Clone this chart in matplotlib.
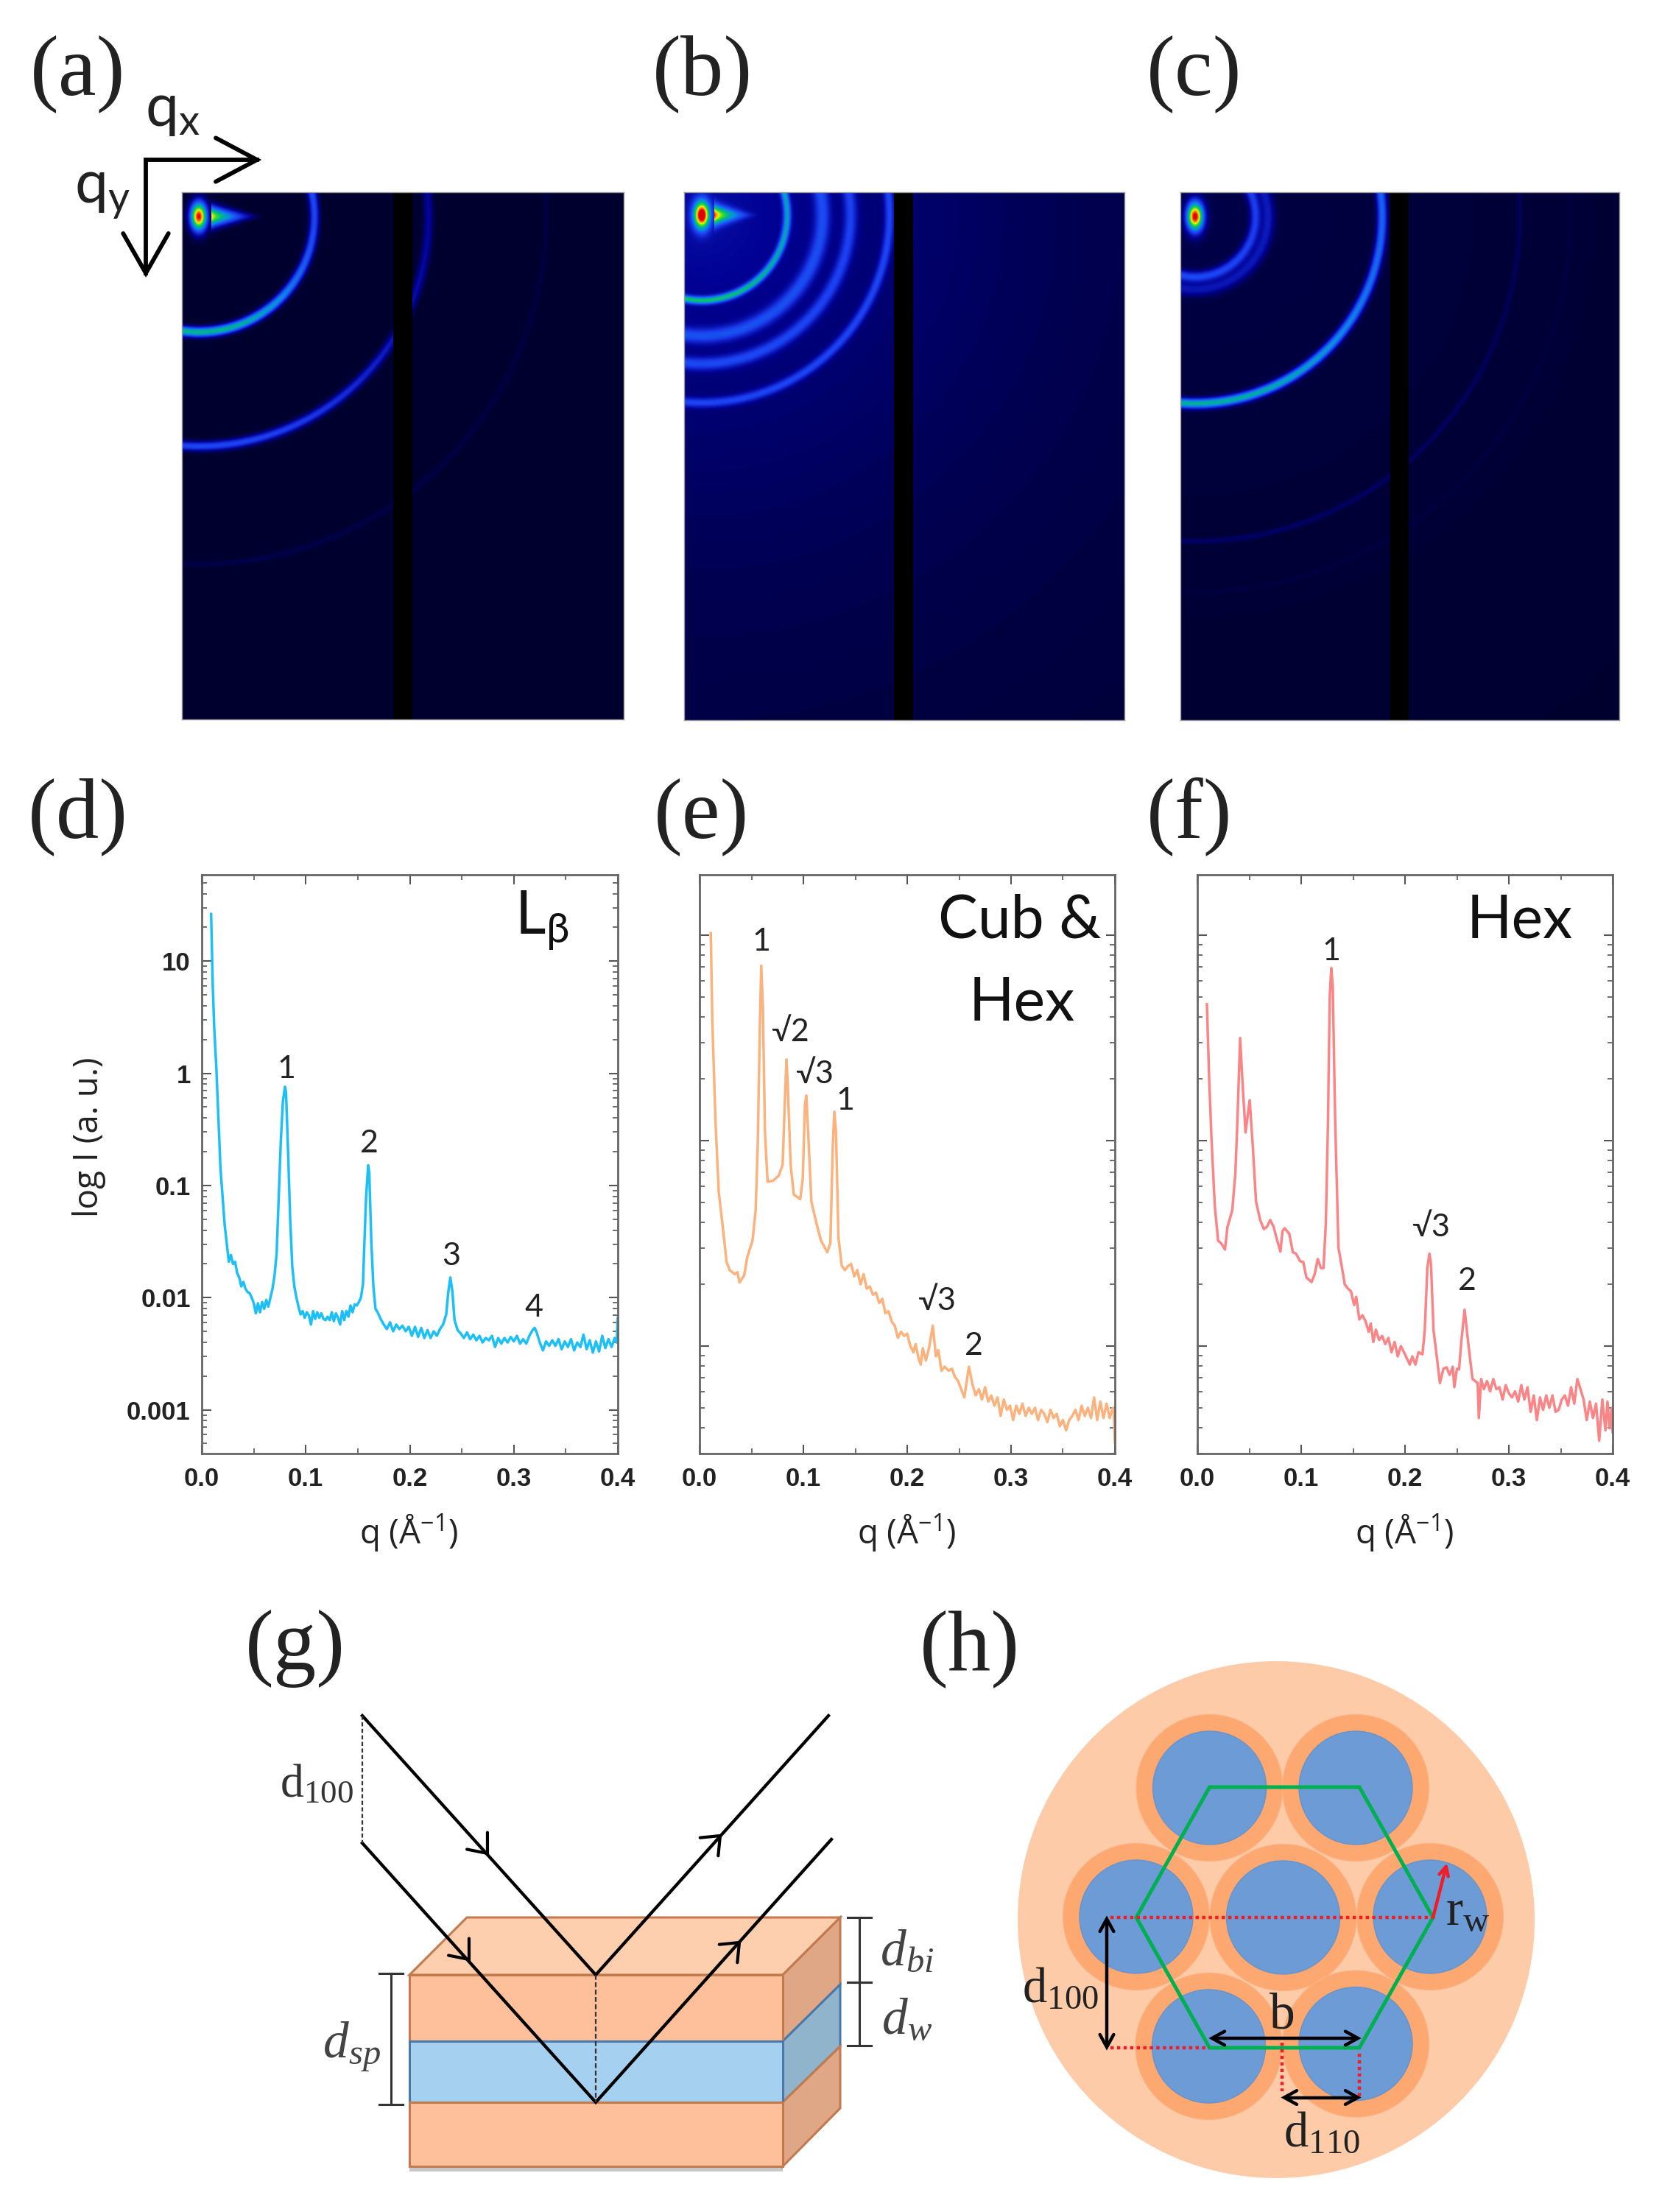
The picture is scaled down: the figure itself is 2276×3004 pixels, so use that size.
import numpy as np
import matplotlib
matplotlib.use('Agg')
import matplotlib.pyplot as plt
from matplotlib.colors import LinearSegmentedColormap
from matplotlib.patches import Circle, Polygon, Rectangle
from matplotlib.ticker import FixedLocator, LogLocator, NullFormatter

W, H = 2276, 3004
plt.rcParams['mathtext.default'] = 'regular'

# curves: (q, log10 I)
curve_d = [
    (.009, 1.42), (.0105, .80), (.012, .40), (.014, .05), (.016, -.40), (.018, -.85), (.020, -1.10), (.022, -1.35),
    (.025, -1.60), (.026, -1.68), (.028, -1.62), (.030, -1.70), (.032, -1.68), (.034, -1.78), (.036, -1.82),
    (.038, -1.90), (.040, -1.86), (.042, -1.92), (.044, -1.95), (.046, -1.96), (.048, -2.00), (.050, -2.05),
    (.052, -2.14), (.054, -2.05), (.056, -2.13), (.058, -2.04), (.060, -2.10), (.062, -2.02), (.064, -2.08),
    (.066, -2.00), (.068, -1.92), (.070, -1.80), (.072, -1.60), (.074, -1.10), (.076, -.60), (.078, -.25),
    (.080, -.12), (.081, -.17), (.083, -.70), (.085, -1.30), (.087, -1.72), (.089, -1.90), (.091, -2.00),
    (.093, -2.08), (.095, -2.15), (.097, -2.12), (.099, -2.18), (.101, -2.13), (.103, -2.16), (.105, -2.24),
    (.107, -2.12), (.109, -2.19), (.111, -2.13), (.113, -2.18), (.115, -2.14), (.117, -2.19), (.119, -2.20),
    (.121, -2.17), (.123, -2.20), (.125, -2.13), (.127, -2.21), (.129, -2.14), (.131, -2.18), (.133, -2.24),
    (.135, -2.12), (.137, -2.20), (.139, -2.12), (.141, -2.17), (.143, -2.07), (.145, -2.13), (.147, -2.06),
    (.149, -2.07), (.151, -2.04), (.153, -2.00), (.155, -1.88), (.156, -1.60), (.158, -1.10), (.160, -.82),
    (.161, -.88), (.163, -1.50), (.165, -1.90), (.167, -2.10), (.169, -2.13), (.172, -2.19), (.175, -2.24),
    (.178, -2.28), (.181, -2.22), (.184, -2.30), (.187, -2.24), (.190, -2.28), (.193, -2.25), (.196, -2.30),
    (.199, -2.26), (.202, -2.34), (.205, -2.26), (.208, -2.35), (.211, -2.27), (.214, -2.36), (.217, -2.29),
    (.220, -2.36), (.223, -2.30), (.226, -2.34), (.229, -2.28), (.232, -2.24), (.235, -2.15), (.237, -1.95),
    (.239, -1.82), (.241, -1.95), (.243, -2.20), (.246, -2.29), (.249, -2.32), (.252, -2.36), (.255, -2.31),
    (.258, -2.37), (.261, -2.33), (.264, -2.38), (.267, -2.34), (.270, -2.40), (.273, -2.36), (.276, -2.38),
    (.279, -2.34), (.282, -2.44), (.285, -2.36), (.288, -2.41), (.291, -2.36), (.294, -2.40), (.297, -2.35),
    (.300, -2.39), (.303, -2.34), (.306, -2.41), (.309, -2.37), (.312, -2.41), (.315, -2.34), (.318, -2.29),
    (.320, -2.27), (.322, -2.31), (.325, -2.40), (.328, -2.47), (.331, -2.39), (.334, -2.43), (.337, -2.38),
    (.340, -2.43), (.343, -2.37), (.346, -2.46), (.349, -2.39), (.352, -2.44), (.355, -2.37), (.358, -2.47),
    (.361, -2.40), (.364, -2.44), (.367, -2.33), (.370, -2.46), (.373, -2.38), (.376, -2.49), (.379, -2.39),
    (.382, -2.48), (.385, -2.34), (.388, -2.45), (.391, -2.37), (.394, -2.44), (.397, -2.36), (.399, -2.40),
    (.400, -2.18),
]
curve_e = [
    (.0108, .01), (.0123, -.42), (.0154, -.915), (.0185, -1.25), (.023, -1.45), (.026, -1.59), (.029, -1.63),
    (.034, -1.65), (.0365, -1.64), (.0385, -1.69), (.043, -1.655), (.046, -1.565), (.051, -1.487), (.054, -1.34),
    (.056, -1.03), (.058, -.466), (.0594, -.148), (.061, -.354), (.063, -.96), (.0655, -1.20), (.0708, -1.195),
    (.0763, -1.17), (.080, -1.117), (.082, -.825), (.0837, -.605), (.085, -.735), (.0877, -1.117), (.0908, -1.262),
    (.097, -1.285), (.0994, -1.184), (.1015, -.825), (.1028, -.78), (.1046, -.96), (.1077, -1.296), (.1123, -1.397),
    (.117, -1.487), (.123, -1.543), (.126, -1.498), (.1283, -1.027), (.1298, -.859), (.1314, -.96), (.1338, -1.475),
    (.137, -1.61), (.140, -1.63), (.143, -1.61), (.146, -1.60), (.149, -1.66), (.152, -1.63), (.155, -1.70),
    (.158, -1.65), (.161, -1.72), (.164, -1.71), (.167, -1.75), (.170, -1.74), (.173, -1.79), (.176, -1.77),
    (.179, -1.84), (.182, -1.83), (.185, -1.88), (.188, -1.90), (.191, -1.96), (.194, -1.93), (.197, -1.95),
    (.200, -1.94), (.203, -2.00), (.206, -2.03), (.208, -1.99), (.211, -2.06), (.213, -2.09), (.215, -2.01),
    (.218, -2.07), (.221, -2.01), (.2246, -1.90), (.2277, -2.05), (.230, -2.02), (.233, -2.12), (.236, -2.10),
    (.240, -2.12), (.243, -2.11), (.246, -2.15), (.249, -2.17), (.252, -2.21), (.255, -2.25), (.2594, -2.10),
    (.263, -2.19), (.266, -2.24), (.269, -2.21), (.272, -2.26), (.275, -2.20), (.278, -2.27), (.281, -2.24),
    (.284, -2.29), (.287, -2.25), (.290, -2.34), (.293, -2.26), (.296, -2.31), (.299, -2.29), (.302, -2.36),
    (.305, -2.29), (.308, -2.33), (.311, -2.28), (.314, -2.34), (.317, -2.30), (.320, -2.33), (.323, -2.30),
    (.326, -2.36), (.329, -2.31), (.332, -2.33), (.335, -2.37), (.338, -2.31), (.341, -2.35), (.344, -2.33),
    (.347, -2.39), (.350, -2.36), (.353, -2.41), (.356, -2.36), (.359, -2.34), (.362, -2.31), (.365, -2.36),
    (.368, -2.29), (.371, -2.34), (.374, -2.30), (.377, -2.35), (.380, -2.25), (.383, -2.36), (.386, -2.27),
    (.389, -2.35), (.392, -2.28), (.395, -2.35), (.398, -2.30), (.399, -2.32), (.400, -2.47),
]
curve_f = [
    (.0092, -.336), (.0113, -.69), (.0137, -1.0), (.0168, -1.318), (.020, -1.487), (.023, -1.50), (.0266, -1.53),
    (.029, -1.42), (.0336, -1.34), (.0366, -1.16), (.0385, -.915), (.0412, -.50), (.0437, -.735), (.0464, -.96),
    (.0504, -.803), (.0534, -1.027), (.0565, -1.296), (.0605, -1.386), (.064, -1.43), (.067, -1.42), (.0702, -1.386),
    (.0735, -1.42), (.0763, -1.475), (.080, -1.54), (.082, -1.44), (.084, -1.426), (.0885, -1.453), (.092, -1.543),
    (.095, -1.55), (.099, -1.587), (.102, -1.59), (.105, -1.666), (.110, -1.688), (.113, -1.65), (.116, -1.576),
    (.119, -1.62), (.1215, -1.62), (.1237, -1.408), (.1258, -.915), (.1275, -.30), (.129, -.16), (.1304, -.25),
    (.1328, -.915), (.1359, -1.52), (.139, -1.61), (.142, -1.70), (.145, -1.72), (.148, -1.733), (.151, -1.80),
    (.153, -1.76), (.156, -1.87), (.159, -1.85), (.162, -1.879), (.165, -1.93), (.167, -1.89), (.1695, -1.98),
    (.172, -1.92), (.175, -1.97), (.178, -1.95), (.181, -1.99), (.184, -1.96), (.187, -2.03), (.190, -1.98),
    (.193, -2.05), (.196, -2.00), (.199, -2.03), (.2046, -2.09), (.207, -2.05), (.210, -2.09), (.213, -2.03),
    (.2168, -2.04), (.219, -1.924), (.2215, -1.62), (.2235, -1.55), (.225, -1.60), (.2275, -1.924), (.2305, -2.047),
    (.2336, -2.18), (.237, -2.11), (.240, -2.103), (.243, -2.14), (.246, -2.10), (.2475, -2.20), (.250, -2.11),
    (.252, -2.114), (.2544, -1.969), (.2574, -1.823), (.261, -1.99), (.265, -2.16), (.270, -2.18), (.2711, -2.35),
    (.2733, -2.16), (.276, -2.21), (.279, -2.17), (.282, -2.22), (.285, -2.16), (.288, -2.21), (.291, -2.20),
    (.294, -2.26), (.297, -2.19), (.300, -2.23), (.303, -2.25), (.306, -2.22), (.309, -2.27), (.312, -2.19),
    (.315, -2.26), (.318, -2.20), (.321, -2.32), (.324, -2.24), (.327, -2.36), (.330, -2.25), (.333, -2.31),
    (.336, -2.24), (.339, -2.30), (.342, -2.24), (.345, -2.32), (.348, -2.31), (.351, -2.26), (.354, -2.24),
    (.357, -2.29), (.360, -2.20), (.363, -2.28), (.366, -2.16), (.369, -2.21), (.372, -2.26), (.375, -2.36),
    (.378, -2.27), (.381, -2.35), (.384, -2.28), (.387, -2.46), (.390, -2.26), (.393, -2.41), (.395, -2.27),
    (.397, -2.40), (.399, -2.30), (.400, -2.42),
]

xticks = [0.0, 0.1, 0.2, 0.3, 0.4]
ytick_labels_d = ['0.001', '0.01', '0.1', '1', '10']
yticks_d = [0.001, 0.01, 0.1, 1, 10]
yticks_rel = [0.01, 0.1, 1]

# detector rings: radius px, width px, level at bottom, level at right
rings_a = [(157, 4.5, .56, .27), (312, 4.5, .27, .11), (472, 3, .03, .02)]
rings_b = [(116, 3.5, .50, .38), (164, 7, .21, .20), (202, 6, .20, .18), (255, 4.5, .20, .20)]
rings_c = [(82, 5, .25, .22), (99, 6, .13, .14), (254, 4.5, .52, .32), (441, 2.5, .05, .035), (510, 2.5, .012, .012)]

detector_cmap = LinearSegmentedColormap.from_list('det', [
    (0.0, '#00002a'), (.10, '#000090'), (.25, '#1c3cf0'), (.42, '#0a8ce6'), (.55, '#00b48c'),
    (.68, '#30e030'), (.80, '#f0f000'), (.90, '#ff8000'), (1.0, '#e00000')])

fig = plt.figure(figsize=(W / 100, H / 100), dpi=100, facecolor='white')

# whole page in pixels for labels and schematics
page = fig.add_axes([0, 0, 1, 1], zorder=5)
page.set_xlim(0, W)
page.set_ylim(H, 0)
page.axis('off')
page.patch.set_alpha(0)


def px_axes(x0, y0, x1, y1):
    return fig.add_axes([x0 / W, 1 - y1 / H, (x1 - x0) / W, (y1 - y0) / H])


def detector(x0, y0, x1, y1, beam, rings, gap, streak, haze):
    ax = px_axes(x0, y0, x1, y1)
    xx, yy = np.meshgrid(np.arange(x0, x1) + .5, np.arange(y0, y1) + .5)
    dx, dy = xx - beam[0], yy - beam[1]
    r = np.hypot(dx, dy)
    s2 = (dy / np.maximum(r, 1)) ** 2
    img = haze * np.exp(-r / 400.0) + .004
    for rad, wid, bottom, right in rings:
        img = img + (right + (bottom - right) * s2) * np.exp(-(r - rad) ** 2 / (2 * wid ** 2))
    # direct beam spot and the streak next to it
    img = img + np.exp(-(dx / 7.5) ** 2 / 2 - (dy / 13.0) ** 2 / 2)
    if streak:
        t = np.clip((dx - 17) / streak, 0, 1)
        on = (dx > 17) & (dx < 17 + streak)
        img = img + on * .78 * (1 - t) ** 1.6 * np.exp(-(dy / (1.2 + 8 * (1 - t))) ** 2 / 2)
    ax.imshow(np.clip(img, 0, 1), cmap=detector_cmap, vmin=0, vmax=1, aspect='auto',
              extent=(x0, x1, y1, y0), interpolation='bilinear')
    ax.axvspan(gap[0], gap[1], color='black', lw=0)
    ax.set_xticks([])
    ax.set_yticks([])
    for s in ax.spines.values():
        s.set_color('#9a9a9a')
        s.set_linewidth(1.0)


def saxs(x0, x1, curve, color, yticks, ylabels, ylim):
    ax = px_axes(x0, 1187.5, x1, 1974)
    q, log_i = zip(*curve)
    ax.plot(q, 10 ** np.array(log_i), color=color, lw=2.5, solid_joinstyle='round')
    ax.set_yscale('log')
    ax.set_xlim(0, .4)
    ax.set_ylim(*ylim)
    ax.xaxis.set_major_locator(FixedLocator(xticks))
    ax.xaxis.set_minor_locator(FixedLocator([.05, .15, .25, .35]))
    ax.yaxis.set_major_locator(FixedLocator(yticks))
    ax.yaxis.set_minor_locator(LogLocator(base=10, subs=range(2, 10), numticks=12))
    ax.yaxis.set_minor_formatter(NullFormatter())
    ax.tick_params(which='major', direction='in', length=9, width=1.5, top=True, right=True, color='#555555')
    ax.tick_params(which='minor', direction='in', length=5, width=1.2, top=True, right=True, color='#555555')
    ax.tick_params(axis='x', which='major', pad=13)
    ax.tick_params(axis='y', which='major', pad=11)
    ax.set_xticklabels(['%.1f' % v for v in xticks], fontsize=25, fontweight='bold',
                       family='Liberation Sans', color='#222222')
    if ylabels:
        ax.set_yticklabels(ylabels, fontsize=25, fontweight='bold', family='Liberation Sans', color='#222222')
    else:
        ax.set_yticklabels([])
    for s in ax.spines.values():
        s.set_color('#666666')
        s.set_linewidth(2.0)
    page.text((x0 + x1) / 2 - 1, 2081, 'q (Å$^{-1}$)', fontsize=33, family='Open Sans', color='#222222',
              ha='center', va='center')
    return ax


def label(x, y, s, size=26, family='Lato', color='#222222', **kw):
    page.text(x, y, s, fontsize=size, family=family, color=color, ha=kw.pop('ha', 'center'),
              va=kw.pop('va', 'center'), **kw)


def chevron(tip, back, spread, lw=3.0, color='black'):
    # open arrow head, back is the vector from the tip to the head's base
    bx, by = tip[0] + back[0], tip[1] + back[1]
    nx, ny = -back[1] * spread, back[0] * spread
    page.plot([bx + nx, tip[0], bx - nx], [by + ny, tip[1], by - ny], color=color, lw=lw,
              solid_capstyle='round', solid_joinstyle='miter')


def double_arrow(p0, p1, lw=3.2, color='black', size=17):
    page.plot([p0[0], p1[0]], [p0[1], p1[1]], color=color, lw=lw, solid_capstyle='butt')
    d = np.array(p1, float) - np.array(p0, float)
    d = d / np.hypot(*d) * size
    chevron(p1, (-d[0], -d[1]), .55, lw=lw, color=color)
    chevron(p0, (d[0], d[1]), .55, lw=lw, color=color)


# top row, detector images
detector(247, 261, 847, 977, (270, 294), rings_a, (534, 560), 74, 0.0)
detector(929, 261, 1527, 978, (953, 292), rings_b, (1214, 1240), 62, .13)
detector(1603, 261, 2199, 978, (1623, 294), rings_c, (1888, 1913), 0, .03)

for x, y, s in [(41, 100, '(a)'), (886, 100, '(b)'), (1557, 100, '(c)'),
                (38, 1109, '(d)'), (888, 1109, '(e)'), (1557, 1109, '(f)'),
                (333, 2239, '(g)'), (1249, 2239, '(h)')]:
    page.text(x, y, s, fontsize=84, family='Liberation Serif', color='#222222', ha='left', va='center')

# q axes arrows
page.plot([349, 198, 198], [217, 217, 371], color='black', lw=4.2, solid_joinstyle='miter')
chevron((349, 217), (-56, 0), .53, lw=4.2)
chevron((198, 371), (0, -54), .57, lw=4.2)
label(235, 150, 'q$_{x}$', size=58)
label(139, 262, 'q$_{y}$', size=58)

# bottom-row curves
ax_d = saxs(274, 839, curve_d, '#1cc0f6', yticks_d, ytick_labels_d, (10 ** -3.39, 10 ** 1.773))
ax_e = saxs(950, 1514, curve_e, '#fbb27c', yticks_rel, None, (10 ** -2.523, 10 ** .296))
ax_f = saxs(1626, 2190, curve_f, '#fb8486', yticks_rel, None, (10 ** -2.523, 10 ** .296))

label(121, 1544, 'log I (a. u.)', size=33, family='Open Sans', rotation=90)
label(736, 1250, 'L$_{β}$', size=58, family=['Lato', 'DejaVu Sans'], color='#111111')
label(1385, 1250, 'Cub &', size=58, color='#111111')
label(1388, 1363, 'Hex', size=58, color='#111111')
label(2064, 1250, 'Hex', size=58, color='#111111')

for x, y, s in [(389, 1452, '1'), (501, 1553, '2'), (613, 1706, '3'), (725, 1776, '4'),
                (1034, 1279, '1'), (1073, 1402, '√2'), (1106, 1459, '√3'), (1148, 1495, '1'),
                (1272, 1767, '√3'), (1322, 1828, '2'),
                (1808, 1292, '1'), (1943, 1667, '√3'), (1992, 1740, '2')]:
    label(x, y, s, size=31, family=['Lato', 'DejaVu Sans'], color='#222222')

# (g) lamellar stack
orange, orange_top, orange_side = '#fdc09a', '#fdcfae', '#e0a786'
blue, blue_side = '#a5d0ef', '#8fb4cc'
edge_o, edge_b = '#c27a4e', '#4a78aa'
page.add_patch(Rectangle((556, 2942), 507, 7, color='#c8c8c8', lw=0))
page.add_patch(Polygon([(556, 2682), (634, 2604), (1141, 2604), (1063, 2682)], fc=orange_top, ec=edge_o, lw=2.2))
page.add_patch(Polygon([(1063, 2682), (1141, 2604), (1141, 2695), (1063, 2772)], fc=orange_side, ec=edge_o, lw=2.2))
page.add_patch(Polygon([(1063, 2772), (1141, 2695), (1141, 2779), (1063, 2855)], fc=blue_side, ec=edge_b, lw=2.2))
page.add_patch(Polygon([(1063, 2855), (1141, 2779), (1141, 2863), (1063, 2942)], fc=orange_side, ec=edge_o, lw=2.2))
page.add_patch(Rectangle((556, 2682), 507, 90, fc=orange, ec=edge_o, lw=2.2))
page.add_patch(Rectangle((556, 2772), 507, 83, fc=blue, ec=edge_b, lw=2.2))
page.add_patch(Rectangle((556, 2855), 507, 87, fc=orange, ec=edge_o, lw=2.2))

page.plot([492, 809, 1125], [2330, 2682, 2330], color='black', lw=3.1, solid_joinstyle='miter')
page.plot([492, 809, 1129], [2503, 2855, 2498], color='black', lw=3.1, solid_joinstyle='miter')
page.plot([492, 492], [2330, 2503], color='#333333', lw=1.6, ls=(0, (2.5, 1.5)))
page.plot([809, 809], [2682, 2855], color='#333333', lw=1.6, ls=(0, (3, 1.5)))
chevron((662, 2517), (-14, -17), .82, lw=3.0)
chevron((637, 2661), (-14, -17), .82, lw=3.0)
chevron((978, 2493), (-15, 15), .82, lw=3.0)
chevron((1004, 2638), (-15, 15), .82, lw=3.0)

for x, y0, y1 in [(531, 2680, 2858), (1167.5, 2604, 2692), (1167.5, 2692, 2778)]:
    page.plot([x, x], [y0, y1], color='#333333', lw=2.2)
    page.plot([x - 16, x + 16], [y0, y0], color='#333333', lw=2.2)
    page.plot([x - 16, x + 16], [y1, y1], color='#333333', lw=2.2)

serif = 'Liberation Serif'
label(430, 2425, 'd$_{100}$', size=46, family=serif, color='#333333')
label(478, 2780, 'd$_{sp}$', size=50, family=serif, color='#444444', style='italic')
label(1232, 2652, 'd$_{bi}$', size=50, family=serif, color='#444444', style='italic')
label(1232, 2745, 'd$_{w}$', size=50, family=serif, color='#444444', style='italic')

# (h) hexagonal packing
page.add_patch(Circle((1733, 2607), 351, fc='#fdcba8', ec='none'))
cells_x = [1642.6, 1841, 1543, 1742.5, 1942, 1641.5, 1841]
cells_y = [2428, 2428, 2603, 2604, 2603, 2779, 2775.6]
for cx, cy in zip(cells_x, cells_y):
    page.add_patch(Circle((cx, cy), 99.5, fc='#fda870', ec='#fbb283', lw=1))
    page.add_patch(Circle((cx, cy), 77, fc='#6c9bd6', ec='#6a93c8', lw=1))

page.add_patch(Polygon([(1642.6, 2427), (1846, 2427), (1946, 2604), (1846, 2781), (1642.6, 2781), (1543, 2604)],
                       fc='none', ec='#00b050', lw=3.6, joinstyle='miter'))
dot = dict(color='#f01c28', lw=3.2, ls=(0, (1, 1)))
page.plot([1508, 1946], [2604, 2604], **dot)
page.plot([1508, 1642], [2781, 2781], **dot)
page.plot([1741, 1741], [2774, 2840], **dot)
page.plot([1846, 1846], [2789, 2847], **dot)
page.annotate('', xy=(1965, 2530), xytext=(1946, 2604),
              arrowprops=dict(arrowstyle='->,head_length=0.9,head_width=0.45', color='#f01c28', lw=3.2,
                              shrinkA=0, shrinkB=0))
double_arrow((1503, 2606), (1503, 2780))
double_arrow((1646, 2768), (1844, 2768))
double_arrow((1744, 2848.5), (1844, 2848.5))

label(1993, 2597, 'r$_{w}$', size=50, family=serif, color='#222222')
label(1440, 2702, 'd$_{100}$', size=48, family=serif, color='#222222')
label(1741, 2738, 'b', size=50, family=serif, color='#222222')
label(1795, 2898, 'd$_{110}$', size=48, family=serif, color='#222222')

fig.savefig('out.png', dpi=100, facecolor='white')
